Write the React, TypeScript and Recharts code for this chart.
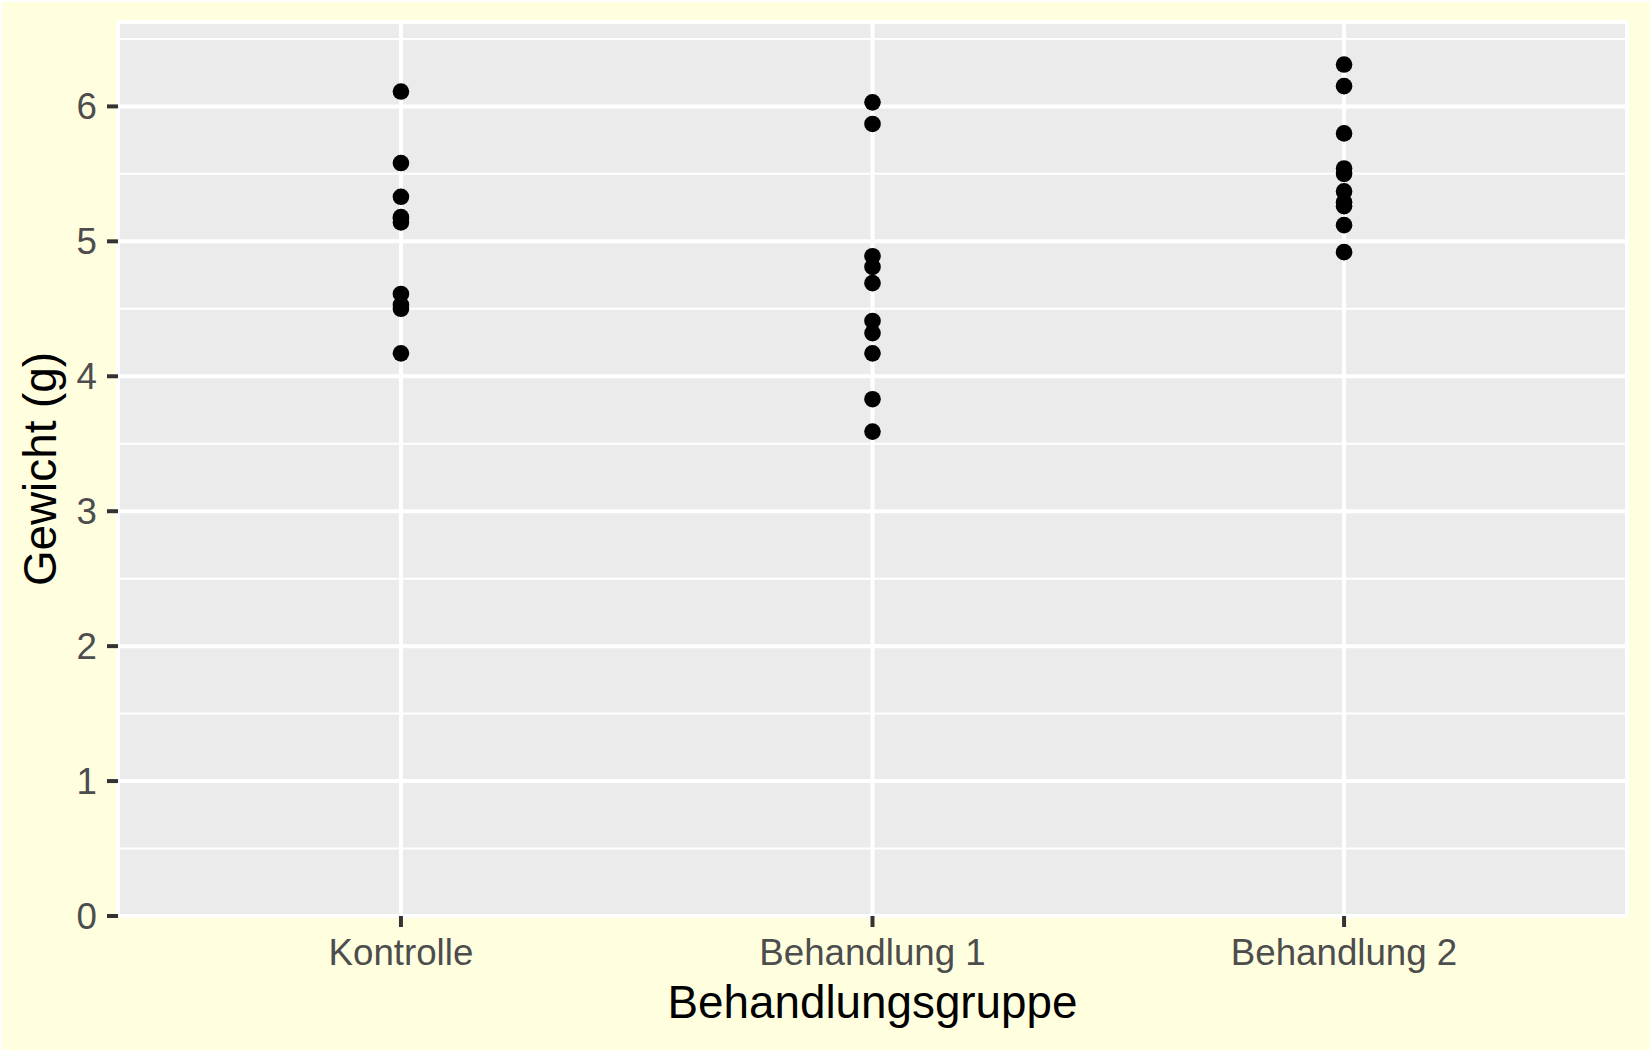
import React from 'react';
import {
  ScatterChart,
  Scatter,
  XAxis,
  YAxis,
  CartesianGrid,
  ReferenceLine,
  Label,
} from 'recharts';

const categories = ['Kontrolle', 'Behandlung 1', 'Behandlung 2'];
const kontrolle = [4.17, 5.58, 5.18, 6.11, 4.5, 4.61, 5.17, 4.53, 5.33, 5.14];
const behandlung1 = [4.81, 4.17, 4.41, 3.59, 5.87, 3.83, 6.03, 4.89, 4.32, 4.69];
const behandlung2 = [6.31, 5.12, 5.54, 5.5, 5.37, 5.29, 4.92, 6.15, 5.8, 5.26];
const yTicks = [0, 1, 2, 3, 4, 5, 6];
const yMinorTicks = [0.5, 1.5, 2.5, 3.5, 4.5, 5.5, 6.5];
const xTicks = [1, 2, 3];

const groups = [kontrolle, behandlung1, behandlung2];
const points = groups.flatMap((vals, i) => vals.map((v) => ({ x: i + 1, y: v })));

const FONT = '"Liberation Sans", Arial, Helvetica, sans-serif';

const Dot = (props: any) => {
  const { cx, cy } = props;
  if (cx == null || cy == null) return null;
  return <circle cx={cx} cy={cy} r={8.3} fill="#000000" />;
};

const YTitle = (props: any) => {
  const vb = props.viewBox || {};
  const x = vb.x + 56;
  const y = vb.y + vb.height / 2;
  return (
    <text
      x={x}
      y={y}
      transform={`rotate(-90, ${x}, ${y})`}
      textAnchor="middle"
      fill="#000000"
      fontSize={45.8}
      fontFamily={FONT}
    >
      Gewicht (g)
    </text>
  );
};

const XTitle = (props: any) => {
  const vb = props.viewBox || {};
  const x = vb.x + vb.width / 2;
  const y = vb.y + 102;
  return (
    <text x={x} y={y} textAnchor="middle" fill="#000000" fontSize={45.8} fontFamily={FONT}>
      Behandlungsgruppe
    </text>
  );
};

export default function App() {
  return (
    <div
      style={{
        position: 'fixed',
        left: 0,
        top: 0,
        width: 1650,
        height: 1050,
        boxSizing: 'border-box',
        borderTop: '2px solid #ffffff',
        borderLeft: '2px solid #ffffff',
        background: '#FFFFE0',
      }}
    >
      <div style={{ position: 'absolute', left: -2, top: -2 }}>
        <ScatterChart
          width={1650}
          height={1050}
          margin={{ top: 22, right: 23, bottom: 0, left: 0 }}
          style={{ fontFamily: FONT }}
        >
          <CartesianGrid
            fill="#EBEBEB"
            fillOpacity={1}
            stroke="#FFFFFF"
            strokeWidth={4}
            strokeDasharray=""
          />
          {yMinorTicks.map((v) => (
            <ReferenceLine
              key={v}
              y={v}
              stroke="#FFFFFF"
              strokeWidth={2}
              strokeDasharray=""
              zIndex={-50}
            />
          ))}
          <XAxis
            type="number"
            dataKey="x"
            domain={[0.4, 3.6]}
            allowDataOverflow
            ticks={xTicks}
            tickFormatter={(v: number) => categories[v - 1] ?? ''}
            axisLine={false}
            tickLine={{ stroke: '#333333', strokeWidth: 4 }}
            tickSize={11}
            tickMargin={12}
            height={134}
            interval={0}
            tick={{ fill: '#4D4D4D', fontSize: 36.7, fontFamily: FONT }}
          >
            <Label content={XTitle} />
          </XAxis>
          <YAxis
            type="number"
            dataKey="y"
            domain={[0, 6.6255]}
            allowDataOverflow
            ticks={yTicks}
            axisLine={false}
            tickLine={{ stroke: '#333333', strokeWidth: 4 }}
            tickSize={11}
            tickMargin={10}
            width={118}
            interval={0}
            tick={{ fill: '#4D4D4D', fontSize: 36.7, fontFamily: FONT }}
          >
            <Label content={YTitle} />
          </YAxis>
          <Scatter data={points} shape={Dot} isAnimationActive={false} fill="#000000" />
        </ScatterChart>
      </div>
    </div>
  );
}
